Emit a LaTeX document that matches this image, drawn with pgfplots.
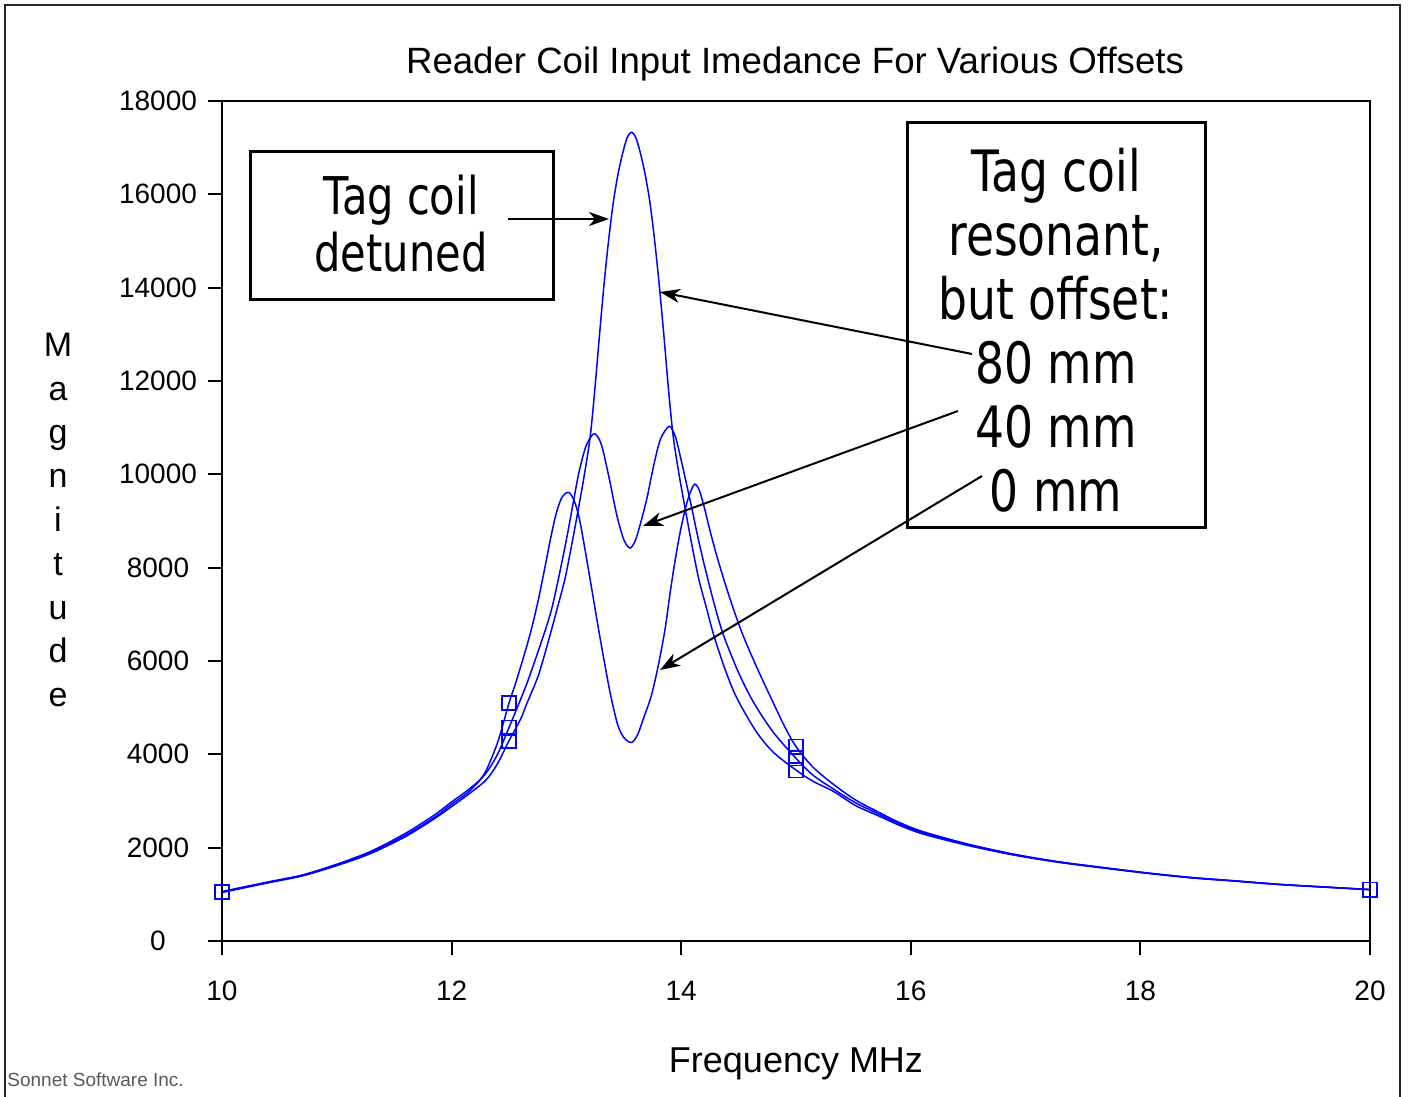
\documentclass[border=0pt]{standalone}
\usepackage{fontspec}
\setmainfont{Liberation Sans}
\newfontfamily\annfont[FakeStretch=0.8]{DejaVu Sans}
\usepackage{pgfplots}
\pgfplotsset{compat=1.18}
\usetikzlibrary{arrows.meta}

% Reader coil input impedance, three tag offsets
\pgfplotstableread{
f M
10.0 1060
10.4 1265
10.7 1415
11.0 1645
11.3 1925
11.6 2310
11.85 2700
12.0 2980
12.15 3250
12.28 3560
12.4 4250
12.5 5100
12.57 5620
12.68 6540
12.75 7250
12.81 7970
12.86 8600
12.91 9150
12.96 9500
13.02 9614
13.07 9420
13.11 9080
13.15 8560
13.21 7700
13.29 6540
13.38 5330
13.45 4610
13.51 4330
13.57 4258
13.62 4420
13.67 4760
13.74 5260
13.80 5900
13.86 6690
13.90 7400
13.94 8050
13.99 8750
14.04 9300
14.08 9620
14.12 9790
14.16 9640
14.20 9300
14.25 8800
14.31 8250
14.38 7680
14.45 7150
14.54 6540
14.67 5800
14.80 5115
14.90 4600
15.00 4166
15.15 3720
15.33 3350
15.52 3020
15.72 2760
15.90 2540
16.11 2340
16.50 2075
16.89 1865
17.27 1705
17.66 1580
18.05 1462
18.44 1362
18.83 1288
19.22 1213
19.61 1157
20.0 1102
}\zeromm

\pgfplotstableread{
f M
10.0 1050
10.4 1255
10.7 1405
11.0 1630
11.3 1900
11.6 2270
11.85 2650
12.0 2930
12.15 3200
12.3 3600
12.4 4000
12.5 4574
12.58 5050
12.67 5614
12.80 6542
12.87 7100
12.93 7757
13.0 8600
13.06 9400
13.11 10050
13.17 10600
13.234 10863
13.28 10780
13.32 10500
13.38 9828
13.44 9113
13.50 8600
13.554 8420
13.60 8580
13.64 8900
13.70 9471
13.76 10185
13.82 10757
13.896 11028
13.95 10800
14.0 10300
14.05 9750
14.09 9300
14.15 8600
14.21 7971
14.29 7200
14.37 6542
14.50 5750
14.63 5115
14.80 4480
15.00 3914
15.15 3550
15.33 3250
15.52 2960
15.72 2720
15.90 2510
16.11 2320
16.50 2060
16.89 1855
17.27 1698
17.66 1575
18.05 1458
18.44 1358
18.83 1285
19.22 1210
19.61 1155
20.0 1101
}\fortymm

\pgfplotstableread{
f M
10.0 1040
10.4 1245
10.7 1395
11.0 1615
11.3 1880
11.6 2240
11.85 2620
12.0 2880
12.15 3150
12.3 3450
12.4 3800
12.5 4290
12.6 4750
12.657 5100
12.757 5700
12.857 6550
12.917 7100
12.987 7757
13.047 8500
13.107 9300
13.157 10000
13.207 10800
13.247 11800
13.287 12950
13.327 14050
13.367 15000
13.407 15800
13.447 16400
13.487 16850
13.527 17200
13.567 17330
13.607 17200
13.648 16850
13.688 16400
13.729 15800
13.769 15000
13.809 14050
13.850 12950
13.890 11800
13.931 10800
13.981 10000
14.032 9300
14.092 8500
14.153 7757
14.224 7100
14.284 6550
14.385 5800
14.486 5200
14.65 4500
14.80 4050
15.00 3662
15.15 3420
15.33 3200
15.52 2900
15.72 2680
15.90 2480
16.11 2290
16.50 2045
16.89 1845
17.27 1692
17.66 1568
18.05 1454
18.44 1354
18.83 1282
19.22 1208
19.61 1153
20.0 1100
}\eightymm

\begin{document}
\begin{tikzpicture}
\useasboundingbox (0pt,0pt) rectangle (704pt,548.5pt);

\begin{axis}[
    at={(111pt,78pt)}, anchor=south west,
    scale only axis, width=574pt, height=420pt,
    xmin=10, xmax=20, ymin=0, ymax=18000,
    xtick={10,12,...,20},
    ytick={0,2000,...,18000},
    scaled y ticks=false,
    tick pos=left, tick align=outside,
    major tick length=7pt,
    axis line style={line width=1pt},
    every tick/.style={black, line width=1pt},
    /pgf/number format/1000 sep={},
    /pgf/number format/assume math mode=true,
    tick label style={font=\fontsize{14}{16}\selectfont},
    yticklabel style={anchor=center, xshift=-25pt},
    xticklabel style={anchor=center, yshift=-18pt},
]
\addplot[blue, line width=0.75pt, smooth] table[x=f, y=M] {\eightymm};
\addplot[blue, line width=0.75pt, smooth] table[x=f, y=M] {\fortymm};
\addplot[blue, line width=0.75pt, smooth] table[x=f, y=M] {\zeromm};
\addplot[blue, only marks, mark=square, mark size=3.6pt, line width=0.8pt]
    coordinates {(10,1050) (12.5,5100) (12.5,4574) (12.5,4290) (15,4166) (15,3914) (15,3662) (20,1100)};
\end{axis}

\begin{scope}[x=0.5pt,y=0.5pt]
\draw[line width=1.2pt, black!85] (5,-10) -- (5,1092) -- (1400,1092) -- (1400,-10);
\node[font=\fontsize{18.3}{22}\selectfont] at (795,1033) {Reader Coil Input Imedance For Various Offsets};
\node[font=\fontsize{17}{21.9}\selectfont, align=center] at (58,577) {M\\a\\g\\n\\i\\t\\u\\d\\e};
\node[font=\fontsize{18}{22}\selectfont] at (796,33) {Frequency MHz};
\node[anchor=west, font=\fontsize{9.5}{11}\selectfont, text=black!65, inner sep=0pt] at (7,17) {Sonnet Software Inc.};

\draw[line width=1.5pt] (250,945) rectangle (553,797);
\node[font=\annfont\fontsize{26}{28.5}\selectfont, align=center] at (401,873) {Tag coil\\detuned};
\draw[line width=1.5pt] (907,974) rectangle (1205,569);
\node[font=\annfont\fontsize{28.5}{32}\selectfont, align=center] at (1056,767) {Tag coil\\resonant,\\but offset:\\80 mm\\40 mm\\0 mm};

\begin{scope}[line width=1pt, -{Stealth[length=10pt, width=7pt, inset=3pt]}]
\draw (508,878) -- (609,878);
\draw (972,743) -- (660,805);
\draw (958,686) -- (643,571);
\draw (982,621) -- (660,427);
\end{scope}
\end{scope}
\end{tikzpicture}
\end{document}
